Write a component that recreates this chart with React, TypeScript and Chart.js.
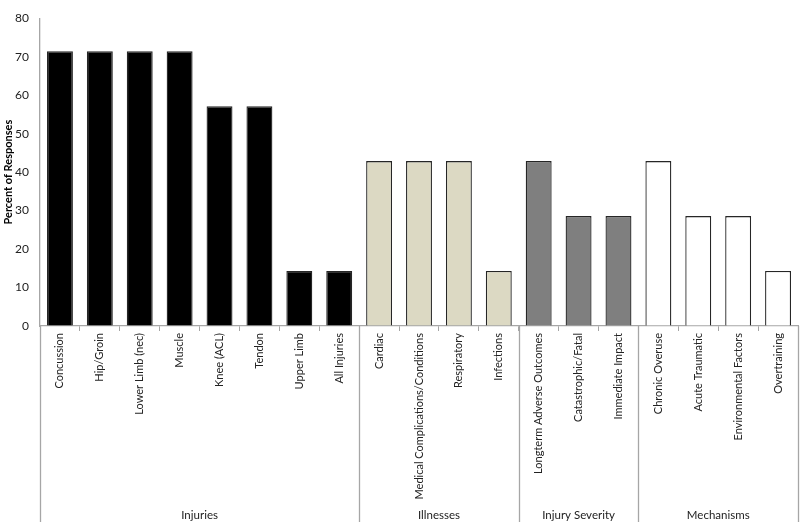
import React, { useEffect, useRef } from "react";
import { Chart, registerables } from "chart.js";

Chart.register(...registerables);

const categories = [
  "Concussion", "Hip/Groin", "Lower Limb (nec)", "Muscle", "Knee (ACL)", "Tendon", "Upper Limb", "All Injuries",
  "Cardiac", "Medical Complications/Conditions", "Respiratory", "Infections",
  "Longterm Adverse Outcomes", "Catastrophic/Fatal", "Immediate Impact",
  "Chronic Overuse", "Acute Traumatic", "Environmental Factors", "Overtraining",
];
const values = [
  71.43, 71.43, 71.43, 71.43, 57.14, 57.14, 14.29, 14.29,
  42.86, 42.86, 42.86, 14.29,
  42.86, 28.57, 28.57,
  42.86, 28.57, 28.57, 14.29,
];
const groupNames = ["Injuries", "Illnesses", "Injury Severity", "Mechanisms"];
const groupSizes = [8, 4, 3, 4];
const groupColors = ["#000000", "#dcd9c3", "#7f7f7f", "#ffffff"];

const FONT = "Lato, 'Open Sans', sans-serif";

export default function App() {
  const ref = useRef<HTMLCanvasElement | null>(null);
  useEffect(() => {
    if (!ref.current) return;
    const colors: string[] = [];
    groupSizes.forEach((n, g) => {
      for (let i = 0; i < n; i++) colors.push(groupColors[g]);
    });
    const groupPlugin = {
      id: "groups",
      afterDraw(chart: any) {
        const ctx = chart.ctx;
        const xs = chart.scales.x;
        const step = xs.getPixelForValue(1) - xs.getPixelForValue(0);
        const edge = (i: number) => xs.getPixelForValue(0) + (i - 0.5) * step;
        const top = chart.chartArea.bottom;
        const bottom = 522;
        ctx.save();
        ctx.strokeStyle = "#a6a6a6";
        ctx.lineWidth = 1.3;
        let idx = 0;
        const bounds = [0];
        groupSizes.forEach((n) => {
          idx += n;
          bounds.push(idx);
        });
        bounds.forEach((b) => {
          const x = Math.round(edge(b)) + 0.5;
          ctx.beginPath();
          ctx.moveTo(x, top);
          ctx.lineTo(x, bottom);
          ctx.stroke();
        });
        ctx.fillStyle = "#222222";
        ctx.font = `11.5px ${FONT}`;
        ctx.textAlign = "center";
        ctx.textBaseline = "middle";
        for (let g = 0; g < groupNames.length; g++) {
          const cx = (edge(bounds[g]) + edge(bounds[g + 1])) / 2;
          ctx.fillText(groupNames[g], cx, 515);
        }
        ctx.restore();
      },
    };
    const chart = new Chart(ref.current, {
      type: "bar",
      data: {
        labels: categories,
        datasets: [
          {
            data: values,
            backgroundColor: colors,
            borderColor: "#262626",
            borderWidth: 1.3,
            barPercentage: 0.65,
            categoryPercentage: 1,
          },
        ],
      },
      options: {
        animation: false,
        responsive: true,
        maintainAspectRatio: false,
        layout: { padding: { top: 2, right: 2, left: 0, bottom: 0 } },
        plugins: { legend: { display: false }, tooltip: { enabled: false } },
        scales: {
          x: {
            grid: { drawOnChartArea: false, offset: true, tickLength: 5, color: "#a6a6a6" },
            border: { color: "#a6a6a6", width: 1.3 },
            ticks: {
              autoSkip: false,
              maxRotation: 90,
              minRotation: 90,
              color: "#222222",
              font: { family: FONT, size: 11 },
              padding: 2,
            },
            afterFit(scale: any) {
              scale.height = 201;
            },
          },
          y: {
            min: 0,
            max: 80,
            ticks: { stepSize: 10, color: "#222222", font: { family: FONT, size: 12 }, padding: 11 },
            grid: { drawOnChartArea: false, drawTicks: false, color: "#a6a6a6" },
            border: { color: "#a6a6a6", width: 1.3 },
            title: {
              display: true,
              text: "Percent of Responses",
              color: "#000000",
              font: { family: FONT, size: 11, weight: "bold" },
              padding: { top: 2, bottom: 0 },
            },
            afterFit(scale: any) {
              scale.width = 40;
            },
          },
        },
      },
      plugins: [groupPlugin],
    });
    return () => chart.destroy();
  }, []);
  return (
    <div style={{ position: "absolute", left: 0, top: 0, width: 800, height: 527, background: "#fff" }}>
      <canvas ref={ref} />
    </div>
  );
}
